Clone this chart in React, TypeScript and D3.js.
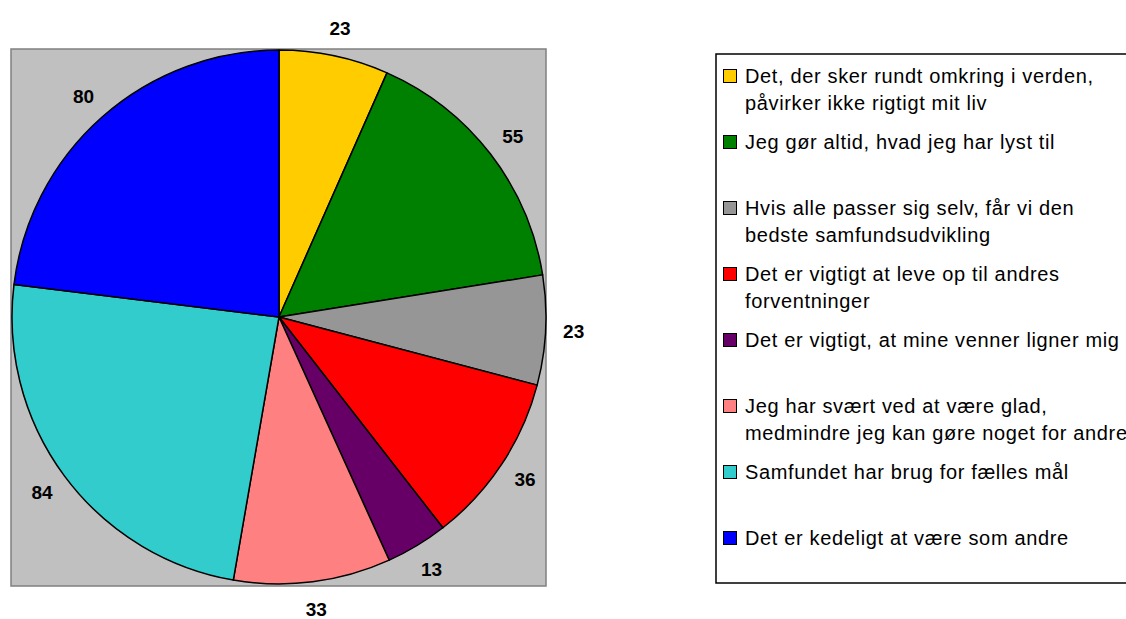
import React from "react";
import * as d3 from "d3";

const categories: string[][] = [
  ["Det, der sker rundt omkring i verden,", "påvirker ikke rigtigt mit liv"],
  ["Jeg gør altid, hvad jeg har lyst til"],
  ["Hvis alle passer sig selv, får vi den", "bedste samfundsudvikling"],
  ["Det er vigtigt at leve op til andres", "forventninger"],
  ["Det er vigtigt, at mine venner ligner mig"],
  ["Jeg har svært ved at være glad,", "medmindre jeg kan gøre noget for andre"],
  ["Samfundet har brug for fælles mål"],
  ["Det er kedeligt at være som andre"],
];
const values: number[] = [23, 55, 23, 36, 13, 33, 84, 80];
const colors: string[] = ["#FFCC00", "#008000", "#969696", "#FF0000", "#660066", "#FF8080", "#33CCCC", "#0000FF"];

const W = 1126;
const H = 619;
const cx = 279;
const cy = 317;
const R = 267;
const labelR = 295;
const FONT = "'Liberation Sans', Arial, sans-serif";

export default function App() {
  const pie = d3.pie<number>().sort(null).value((d) => d)(values);
  const arc = d3.arc<d3.PieArcDatum<number>>().innerRadius(0).outerRadius(R);
  const labelArc = d3.arc<d3.PieArcDatum<number>>().innerRadius(labelR).outerRadius(labelR);

  const legendX = 716;
  const legendY = 54;
  const itemStep = 66;
  const firstBaseline = 83;
  const lineH = 27;

  return (
    <svg width={W} height={H} style={{ position: "absolute", left: 0, top: 0, background: "#fff" }}>
      <rect x={11} y={49} width={535} height={537} fill="#C0C0C0" stroke="#808080" strokeWidth={1.5} />
      <g transform={`translate(${cx},${cy})`}>
        {pie.map((p, i) => (
          <path key={i} d={arc(p) || ""} fill={colors[i]} stroke="#000" strokeWidth={1.5} strokeLinejoin="round" />
        ))}
        {pie.map((p, i) => {
          const [x, y] = labelArc.centroid(p);
          return (
            <text key={"l" + i} x={x} y={y} textAnchor="middle" dominantBaseline="central"
              fontFamily={FONT} fontWeight="bold" fontSize={19} fill="#000">
              {values[i]}
            </text>
          );
        })}
      </g>
      <rect x={legendX} y={legendY} width={W - legendX + 10} height={529} fill="#fff" stroke="#000" strokeWidth={1.5} />
      {categories.map((lines, i) => {
        const by = firstBaseline + itemStep * i;
        return (
          <g key={"g" + i}>
            <rect x={723.5} y={by - 13.5} width={13} height={13} fill={colors[i]} stroke="#000" strokeWidth={1} />
            <text fontFamily={FONT} fontSize={20} letterSpacing={0.65} fill="#000">
              {lines.map((t, j) => (
                <tspan key={j} x={745} y={by + j * lineH}>{t}</tspan>
              ))}
            </text>
          </g>
        );
      })}
    </svg>
  );
}
